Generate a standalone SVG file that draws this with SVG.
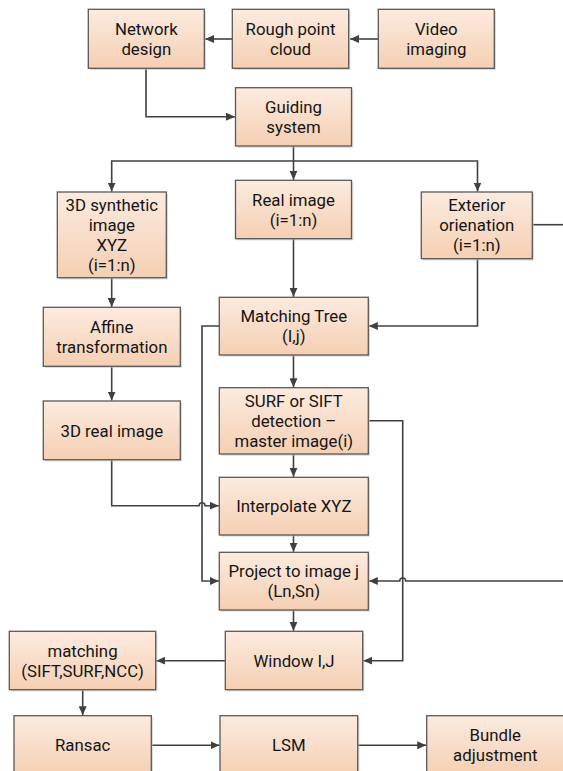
<svg xmlns="http://www.w3.org/2000/svg" width="563" height="771" viewBox="0 0 563 771">
<defs>
<linearGradient id="g" x1="0" y1="0" x2="0" y2="1">
<stop offset="0" stop-color="#fcebdf"/>
<stop offset="1" stop-color="#f5cfb3"/>
</linearGradient>
<marker id="ah" markerUnits="userSpaceOnUse" markerWidth="10" markerHeight="8" refX="9" refY="4" orient="auto">
<path d="M0,0 L9,4 L0,8 z" fill="#404040"/>
</marker>
<style>
.box{fill:url(#g);stroke:#595959;stroke-width:1.3}
.sh{fill:#bfbfbf;opacity:0.55}
.t{font-family:Roboto,"Liberation Sans",sans-serif;font-size:16.8px;fill:#141414;text-anchor:middle}
.c{fill:none;stroke:#404040;stroke-width:1.6}
.a{marker-end:url(#ah)}
</style>
</defs>
<rect width="563" height="771" fill="#ffffff"/>

<g id="connectors">
<path class="c a" d="M232,39 H205"/>
<path class="c a" d="M378,39 H350"/>
<path class="c a" d="M146,68 V116.7 H235"/>
<path class="c a" d="M293.5,146 V161 H111.7 V191.5"/>
<path class="c a" d="M293.5,161 V179.8"/>
<path class="c a" d="M293.5,161 H477.5 V191.5"/>
<path class="c a" d="M111.7,277.7 V307"/>
<path class="c a" d="M111.7,366 V400.5"/>
<path class="c a" d="M293.5,239 V296.8"/>
<path class="c a" d="M477.5,258.7 V326 H368.8"/>
<path class="c" d="M532.3,224.7 H563"/>
<path class="c a" d="M563,581 H405.7 A3,3 0 0 0 399.7,581 H368.8"/>
<path class="c a" d="M219.3,326 H202 V581 H218.8"/>
<path class="c a" d="M293.5,355 V387.3"/>
<path class="c a" d="M293.5,454 V476.8"/>
<path class="c a" d="M368.3,420.7 H402.7 V660.7 H363.2"/>
<path class="c a" d="M111.7,460 V505.7 H199 A3,3 0 0 1 205,505.7 H218.8"/>
<path class="c a" d="M293.5,535 V551.8"/>
<path class="c a" d="M293.5,610 V630.8"/>
<path class="c a" d="M225.3,660.7 H156.2"/>
<path class="c a" d="M82.7,689.7 V715.2"/>
<path class="c a" d="M151.3,745.3 H219.5"/>
<path class="c a" d="M357.7,745.3 H426.2"/>
</g>

<g id="n-network">
<rect class="sh" x="90" y="11" width="116" height="59"/>
<rect class="box" x="88.3" y="9.3" width="116" height="59"/>
<text class="t" x="146.3" y="34.8">Network</text>
<text class="t" x="146.3" y="54.8">design</text>
</g>
<g id="n-rough">
<rect class="sh" x="234" y="11" width="116.4" height="59"/>
<rect class="box" x="232.3" y="9.3" width="116.4" height="59"/>
<text class="t" x="290.5" y="34.8">Rough point</text>
<text class="t" x="290.5" y="54.8">cloud</text>
</g>
<g id="n-video">
<rect class="sh" x="380" y="11" width="116" height="59"/>
<rect class="box" x="378.3" y="9.3" width="116" height="59"/>
<text class="t" x="436.3" y="34.8">Video</text>
<text class="t" x="436.3" y="54.8">imaging</text>
</g>
<g id="n-guiding">
<rect class="sh" x="237.3" y="89.5" width="116" height="58.3"/>
<rect class="box" x="235.5" y="87.7" width="116" height="58.3"/>
<text class="t" x="293.5" y="112.8">Guiding</text>
<text class="t" x="293.5" y="132.8">system</text>
</g>
<g id="n-synth">
<rect class="sh" x="59" y="193.8" width="109" height="85.7"/>
<rect class="box" x="57.3" y="192" width="109" height="85.7"/>
<text class="t" x="111.8" y="210.8">3D synthetic</text>
<text class="t" x="111.8" y="230.8">image</text>
<text class="t" x="111.8" y="250.8">XYZ</text>
<text class="t" x="111.8" y="270.8">(i=1:n)</text>
</g>
<g id="n-real">
<rect class="sh" x="237.3" y="182" width="116" height="58.4"/>
<rect class="box" x="235.5" y="180.3" width="116" height="58.4"/>
<text class="t" x="293.5" y="205.5">Real image</text>
<text class="t" x="293.5" y="225.5">(i=1:n)</text>
</g>
<g id="n-exterior">
<rect class="sh" x="423" y="193.8" width="111" height="66.7"/>
<rect class="box" x="421.3" y="192" width="111" height="66.7"/>
<text class="t" x="476.8" y="211.3">Exterior</text>
<text class="t" x="476.8" y="231.3">orienation</text>
<text class="t" x="476.8" y="251.3">(i=1:n)</text>
</g>
<g id="n-affine">
<rect class="sh" x="45" y="309" width="137" height="59"/>
<rect class="box" x="43.3" y="307.3" width="137" height="59"/>
<text class="t" x="111.8" y="332.8">Affine</text>
<text class="t" x="111.8" y="352.8">transformation</text>
</g>
<g id="n-real3d">
<rect class="sh" x="45" y="402.8" width="137" height="58.7"/>
<rect class="box" x="43.3" y="401" width="137" height="58.7"/>
<text class="t" x="111.8" y="436.5">3D real image</text>
</g>
<g id="n-tree">
<rect class="sh" x="221" y="299" width="149" height="57.7"/>
<rect class="box" x="219.3" y="297.3" width="149" height="57.7"/>
<text class="t" x="293.8" y="322.2">Matching Tree</text>
<text class="t" x="293.8" y="342.2">(I,j)</text>
</g>
<g id="n-surf">
<rect class="sh" x="221" y="389.5" width="149" height="66.3"/>
<rect class="box" x="219.3" y="387.7" width="149" height="66.3"/>
<text class="t" x="293.8" y="406.8">SURF or SIFT</text>
<text class="t" x="293.8" y="426.8">detection –</text>
<text class="t" x="293.8" y="446.8">master image(i)</text>
</g>
<g id="n-interp">
<rect class="sh" x="221" y="479" width="149" height="57.7"/>
<rect class="box" x="219.3" y="477.3" width="149" height="57.7"/>
<text class="t" x="293.8" y="512.2">Interpolate XYZ</text>
</g>
<g id="n-project">
<rect class="sh" x="221" y="554" width="149" height="57.7"/>
<rect class="box" x="219.3" y="552.3" width="149" height="57.7"/>
<text class="t" x="293.8" y="577.2">Project to image j</text>
<text class="t" x="293.8" y="597.2">(Ln,Sn)</text>
</g>
<g id="n-window">
<rect class="sh" x="227" y="633" width="137.4" height="58.4"/>
<rect class="box" x="225.3" y="631.3" width="137.4" height="58.4"/>
<text class="t" x="294" y="666.5">Window I,J</text>
</g>
<g id="n-matching">
<rect class="sh" x="11" y="633" width="146.4" height="58.4"/>
<rect class="box" x="9.3" y="631.3" width="146.4" height="58.4"/>
<text class="t" x="82.5" y="656.5">matching</text>
<text class="t" x="82.5" y="676.5">(SIFT,SURF,NCC)</text>
</g>
<g id="n-ransac">
<rect class="sh" x="15.7" y="717.5" width="137.3" height="60"/>
<rect class="box" x="14" y="715.7" width="137.3" height="60"/>
<text class="t" x="82.7" y="751">Ransac</text>
</g>
<g id="n-lsm">
<rect class="sh" x="221.7" y="717.5" width="137.7" height="60"/>
<rect class="box" x="220" y="715.7" width="137.7" height="60"/>
<text class="t" x="288.9" y="751">LSM</text>
</g>
<g id="n-bundle">
<rect class="sh" x="428.4" y="717.5" width="137" height="60"/>
<rect class="box" x="426.7" y="715.7" width="137" height="60"/>
<text class="t" x="495.3" y="741">Bundle</text>
<text class="t" x="495.3" y="761">adjustment</text>
</g>
</svg>
